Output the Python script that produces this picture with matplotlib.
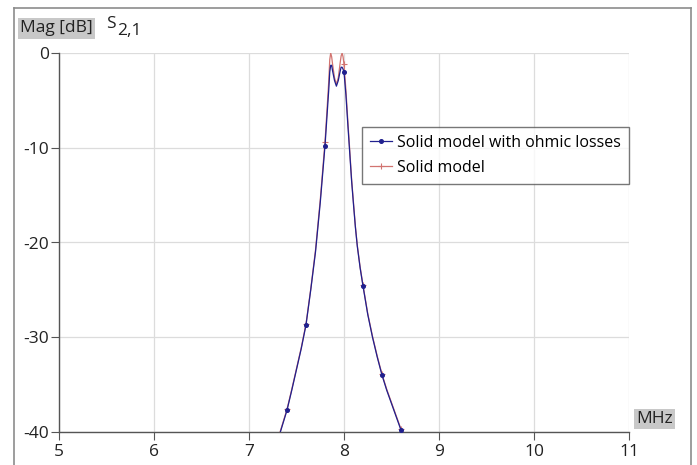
import matplotlib
matplotlib.use("Agg")
import matplotlib.pyplot as plt
from matplotlib.lines import Line2D

# Data (frequency in MHz, magnitude in dB)
freq = [7.30, 7.33, 7.40, 7.45, 7.50, 7.55, 7.60, 7.65, 7.70, 7.75, 7.80, 7.82,
        7.84, 7.85, 7.86, 7.87, 7.88, 7.90, 7.92, 7.94, 7.96, 7.97, 7.98, 7.99,
        8.00, 8.02, 8.04, 8.06, 8.08, 8.10, 8.12, 8.14, 8.17, 8.20, 8.25, 8.30,
        8.35, 8.40, 8.45, 8.50, 8.55, 8.60, 8.62]
mag_lossy = [-41.2, -40.0, -37.7, -35.6, -33.4, -31.2, -28.7, -25.0, -21.0, -15.8, -9.8, -6.8,
             -3.8, -2.0, -1.3, -1.3, -1.9, -2.9, -3.5, -2.9, -1.9, -1.5, -1.5, -1.7,
             -2.0, -4.4, -7.5, -10.5, -13.5, -16.0, -18.4, -20.4, -22.7, -24.6, -27.6, -30.0,
             -32.1, -34.0, -35.6, -37.0, -38.4, -39.8, -40.4]
mag_lossless = [-41.1, -39.9, -37.6, -35.5, -33.3, -31.1, -28.6, -24.9, -20.8, -15.5, -9.4, -6.2,
                -2.9, -0.7, 0.0, -0.4, -1.2, -2.6, -3.3, -2.6, -1.0, -0.3, 0.0, -0.4,
                -1.2, -3.9, -7.1, -10.2, -13.3, -15.8, -18.3, -20.3, -22.6, -24.5, -27.5, -29.9,
                -32.0, -33.9, -35.5, -36.9, -38.3, -39.7, -40.3]
marker_freqs = [7.4, 7.6, 7.8, 8.0, 8.2, 8.4, 8.6]
series_names = ["Solid model with ohmic losses", "Solid model"]
x_ticks = [5, 6, 7, 8, 9, 10, 11]
y_ticks = [0, -10, -20, -30, -40]

plt.rcParams['font.family'] = ['Open Sans', 'DejaVu Sans']

W, H = 697, 465
fig = plt.figure(figsize=(W / 100, H / 100), dpi=100)
ax = fig.add_axes([59 / W, (H - 432) / H, (629 - 59) / W, (432 - 53) / H])

mark_idx = [i for i, f in enumerate(freq) if any(abs(f - m) < 1e-6 for m in marker_freqs)]

red = '#d27470'
blue = '#20208e'
ax.plot(freq, mag_lossless, color=red, lw=0.9, marker='+', ms=4, mew=0.8,
        markevery=mark_idx, zorder=3)
ax.plot(freq, mag_lossy, color=blue, lw=0.9, marker='o', ms=2.6,
        markevery=mark_idx, zorder=4)

ax.set_xlim(5, 11)
ax.set_ylim(-40, 0)
ax.set_xticks(x_ticks)
ax.set_yticks(y_ticks)
ax.set_xticklabels([str(t) for t in x_ticks], fontsize=12.5, color='#222222')
ax.set_yticklabels([str(t) for t in y_ticks], fontsize=12.5, color='#222222')
ax.grid(True, color='#dcdcdc', lw=0.9)
ax.set_axisbelow(True)
for s in ['top', 'right']:
    ax.spines[s].set_visible(False)
for s in ['left', 'bottom']:
    ax.spines[s].set_color('#555555')
    ax.spines[s].set_linewidth(1.0)
ax.tick_params(axis='both', direction='out', length=6, width=0.8, color='#555555')
ax.tick_params(axis='x', pad=2.5)
ax.tick_params(axis='y', pad=1)

handles = [Line2D([], [], color=blue, lw=0.9, marker='o', ms=2.6),
           Line2D([], [], color=red, lw=0.9, marker='+', ms=4, mew=0.8)]
leg = ax.legend(handles, series_names, loc='upper left',
                bbox_to_anchor=((362 - 59) / (629 - 59), 1 - (127 - 53) / (432 - 53)),
                fontsize=11.5, frameon=True, fancybox=False, handlelength=1.4,
                handletextpad=0.35, borderpad=0.47, labelspacing=0.6, borderaxespad=0)
leg.get_frame().set_edgecolor('#555555')
leg.get_frame().set_linewidth(1.0)

# outer frame
fc = '#8c8c8c'
fig.add_artist(Line2D([14 / W, 14 / W], [0, 1 - 8 / H], transform=fig.transFigure, color=fc, lw=1.2))
fig.add_artist(Line2D([691 / W, 691 / W], [0, 1 - 8 / H], transform=fig.transFigure, color=fc, lw=1.2))
fig.add_artist(Line2D([14 / W, 691 / W], [1 - 8 / H, 1 - 8 / H], transform=fig.transFigure, color=fc, lw=1.2))

# axis labels in gray boxes
fig.text(20 / W, 1 - 28.5 / H, "Mag [dB]", fontsize=12.5, va='center', ha='left', color='#222222',
         bbox=dict(boxstyle='square,pad=0.12', fc='#c8c8c8', ec='none'))
fig.text(106 / W, 1 - 24 / H, "S", fontsize=12.5, va='center', ha='left', color='#222222')
fig.text(117 / W, 1 - 31 / H, "2,1", fontsize=12.5, va='center', ha='left', color='#222222')
fig.text(636 / W, 1 - 419 / H, "MHz", fontsize=12.5, va='center', ha='left', color='#222222',
         bbox=dict(boxstyle='square,pad=0.12', fc='#c8c8c8', ec='none'))

fig.savefig("out.png", dpi=100)
